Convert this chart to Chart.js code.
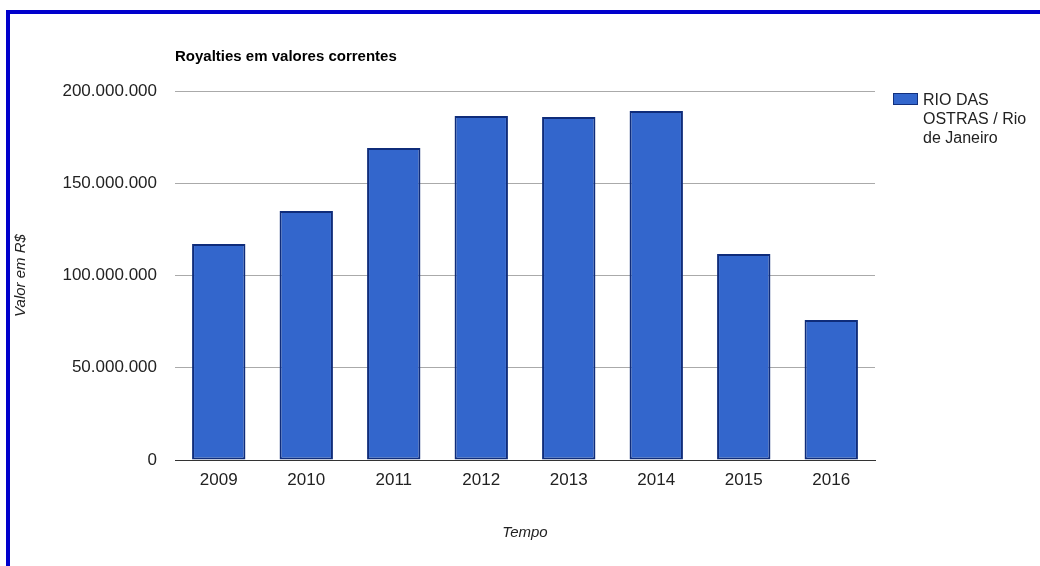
<!DOCTYPE html>
<html>
<head>
<meta charset="utf-8">
<script src="https://cdn.jsdelivr.net/npm/chart.js@4"></script>
<style>
    html, body { margin: 0; padding: 0; background: #fff; }
    body { width: 1040px; height: 566px; position: relative; overflow: hidden; font-family: "Liberation Sans", Arial, sans-serif; }
    #frameTop { position: absolute; left: 6px; top: 10px; width: 1034px; height: 4px; background: #0000cc; }
    #frameLeft { position: absolute; left: 6px; top: 10px; width: 4px; height: 556px; background: #0000cc; }
    #chartBox { position: absolute; left: 0; top: 0; width: 1040px; height: 566px; }
    #legend { position: absolute; left: 893px; top: 90px; white-space: nowrap; font-size: 16px; line-height: 19px; color: #222; }
    #legend .swatch { position: absolute; left: 0; top: 3px; width: 25px; height: 12px; background: #3366cc; border: 1px solid #12307e; box-sizing: border-box; }
    #legend .text { position: absolute; left: 30px; top: 0; }
</style>
</head>
<body>
<div id="chartBox"><canvas id="royaltiesChart" width="1040" height="566"></canvas></div>
<div id="legend"><span class="swatch"></span><span class="text">RIO DAS<br>OSTRAS / Rio<br>de Janeiro</span></div>
<div id="frameTop"></div>
<div id="frameLeft"></div>
<script>
// Royalties recebidos por ano (R$)
const years = ["2009", "2010", "2011", "2012", "2013", "2014", "2015", "2016"];
const royalties = [117100000, 135000000, 169100000, 186400000, 185900000, 189200000, 111700000, 75900000];
const yTicks = [0, 50000000, 100000000, 150000000, 200000000];

const chartTitle = "Royalties em valores correntes";
const seriesName = "RIO DAS OSTRAS / Rio de Janeiro";

function formatBR(v) {
    return v.toLocaleString("de-DE");
}

// draws the chart title aligned with the left edge of the plot
const titlePlugin = {
    id: "leftTitle",
    afterDraw(chart) {
        const ctx = chart.ctx;
        const area = chart.chartArea;
        ctx.save();
        ctx.font = "bold 15px 'Liberation Sans', Arial, sans-serif";
        ctx.fillStyle = "#000";
        ctx.textBaseline = "middle";
        ctx.textAlign = "left";
        ctx.fillText(chartTitle, area.left, area.top - 34);
        ctx.restore();
    }
};

const ctx = document.getElementById("royaltiesChart").getContext("2d");
new Chart(ctx, {
    type: "bar",
    data: {
        labels: years,
        datasets: [{
            label: seriesName,
            data: royalties,
            backgroundColor: "#3366cc",
            borderColor: "#0f2c7a",
            borderWidth: 2,
            borderSkipped: false,
            categoryPercentage: 0.61,
            barPercentage: 1.0
        }]
    },
    options: {
        responsive: false,
        animation: false,
        layout: { padding: { top: 91, right: 165, bottom: 0, left: 0 } },
        plugins: {
            legend: { display: false },
            tooltip: { enabled: false },
            title: { display: false }
        },
        scales: {
            x: {
                grid: { display: false, drawTicks: false },
                border: { display: true, color: "#333", width: 1 },
                ticks: {
                    color: "#222",
                    padding: 10,
                    font: { family: "'Liberation Sans', Arial, sans-serif", size: 17 }
                },
                title: {
                    display: true,
                    text: "Tempo",
                    color: "#222",
                    padding: { top: 0, bottom: 24 },
                    font: { family: "'Liberation Sans', Arial, sans-serif", size: 15, style: "italic" }
                },
                afterFit(scale) { scale.height = 106; }
            },
            y: {
                min: 0,
                max: 200000000,
                afterBuildTicks(scale) { scale.ticks = yTicks.map(v => ({ value: v })); },
                grid: {
                    drawTicks: false,
                    color: (c) => c.tick && c.tick.value === 0 ? "#333" : "#aaa"
                },
                border: { display: false },
                ticks: {
                    color: "#222",
                    padding: 18,
                    font: { family: "'Liberation Sans', Arial, sans-serif", size: 17 },
                    callback: (v) => formatBR(v)
                },
                title: {
                    display: true,
                    text: "Valor em R$",
                    color: "#222",
                    padding: { top: 12, bottom: 0 },
                    font: { family: "'Liberation Sans', Arial, sans-serif", size: 15, style: "italic" }
                },
                afterFit(scale) { scale.width = 175; }
            }
        }
    },
    plugins: [titlePlugin]
});
</script>
</body>
</html>
